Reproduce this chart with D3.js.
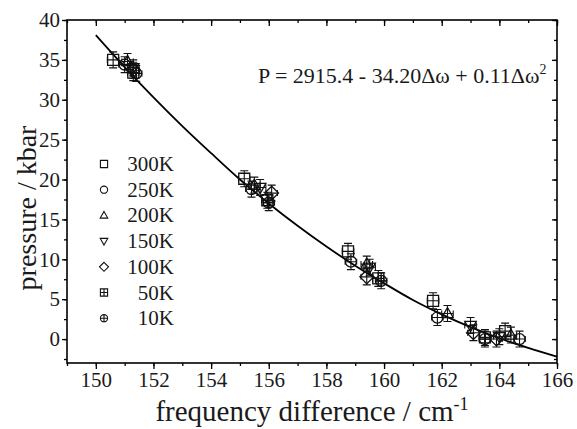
<!DOCTYPE html>
<html>
<head>
<meta charset="utf-8">
<script src="https://cdn.jsdelivr.net/npm/d3@7"></script>
<style>
  body { margin: 0; background: #fff; }
</style>
</head>
<body>
<div id="chart"></div>
<script>
// series labels (temperatures)
const temps = ['300K', '250K', '200K', '150K', '100K', '50K', '10K'];
const shapes = ['square', 'circle', 'triangle', 'triangleDown', 'diamond', 'squarePlus', 'circlePlus'];

// measured points per temperature: [frequency difference, pressure]
const s300 = [[150.6, 35.0], [155.15, 20.1], [158.75, 11.0], [161.7, 4.8], [164.2, 1.0]];
const s250 = [[151.0, 34.4], [155.4, 18.8], [158.85, 9.7], [161.85, 2.7], [164.7, 0.0]];
const s200 = [[151.1, 34.8], [155.5, 19.3], [159.4, 9.4], [162.2, 3.2], [164.4, 0.5]];
const s150 = [[151.3, 34.0], [155.7, 19.0], [159.5, 9.0], [163.0, 1.7], [164.0, 0.3]];
const s100 = [[151.3, 33.7], [156.1, 18.3], [159.4, 7.8], [163.1, 0.8], [163.9, 0.0]];
const s50 = [[151.3, 33.4], [155.95, 17.4], [159.8, 7.6], [163.5, 0.2]];
const s10 = [[151.4, 33.3], [156.0, 17.1], [159.9, 7.3], [163.5, 0.0]];
const seriesValues = [s300, s250, s200, s150, s100, s50, s10];

// error bar half-widths
const yErr = 1.0;
const xErr = 0.2;

// fitted curve
const fitX = [150, 151, 152, 153, 154, 155, 156, 157, 158, 159, 160, 161, 162, 163, 164, 165, 166];
const fitY = [38.1, 34.1, 30.3, 26.7, 23.3, 20.0, 17.0, 14.2, 11.6, 9.2, 7.0, 4.9, 3.1, 1.5, 0.1, -1.1, -2.2];

const xTicks = [150, 152, 154, 156, 158, 160, 162, 164, 166];
const yTicks = [0, 5, 10, 15, 20, 25, 30, 35, 40];

const width = 577;
const height = 429;
const margin = {top: 20, right: 20, bottom: 66, left: 67};
const serif = 'Liberation Serif';

const svg = d3.select('#chart')
  .append('svg')
  .attr('width', width)
  .attr('height', height);

const x = d3.scaleLinear()
  .domain([149, 166])
  .range([margin.left, width - margin.right]);

const y = d3.scaleLinear()
  .domain([-3, 40])
  .range([height - margin.bottom, margin.top]);

function shapePath(type, r) {
  switch (type) {
    case 'square':
      return `M${-r},${-r}H${r}V${r}H${-r}Z`;
    case 'circle':
      return `M${r},0A${r},${r} 0 1,1 ${-r},0A${r},${r} 0 1,1 ${r},0Z`;
    case 'triangle':
      return `M0,${-r * 1.1}L${r * 1.05},${r * 0.75}H${-r * 1.05}Z`;
    case 'triangleDown':
      return `M0,${r * 1.1}L${r * 1.05},${-r * 0.75}H${-r * 1.05}Z`;
    case 'diamond':
      return `M0,${-r * 1.25}L${r * 1.25},0L0,${r * 1.25}L${-r * 1.25},0Z`;
    case 'squarePlus':
      return `M${-r},${-r}H${r}V${r}H${-r}Z M0,${-r}V${r} M${-r},0H${r}`;
    case 'circlePlus':
      return `M${r},0A${r},${r} 0 1,1 ${-r},0A${r},${r} 0 1,1 ${r},0Z M0,${-r}V${r} M${-r},0H${r}`;
  }
}

// axes: outward ticks on left/bottom, inward mirror ticks on top/right
const xMinor = d3.range(149, 167, 1);
const yMinor = d3.range(-2.5, 40.1, 2.5);

svg.append('g')
  .attr('transform', `translate(0,${y(-3)})`)
  .call(d3.axisBottom(x).tickValues(xMinor).tickSize(3).tickFormat(''))
  .call(g => g.select('.domain').remove());
svg.append('g')
  .attr('transform', `translate(0,${y(-3)})`)
  .call(d3.axisBottom(x).tickValues(xTicks).tickSize(6).tickPadding(3).tickFormat(d3.format('d')))
  .call(g => g.select('.domain').remove())
  .attr('font-size', 21);

svg.append('g')
  .attr('transform', `translate(${x(149)},0)`)
  .call(d3.axisLeft(y).tickValues(yMinor).tickSize(3).tickFormat(''))
  .call(g => g.select('.domain').remove());
svg.append('g')
  .attr('transform', `translate(${x(149)},0)`)
  .call(d3.axisLeft(y).tickValues(yTicks).tickSize(5).tickPadding(2))
  .call(g => g.select('.domain').remove())
  .attr('font-size', 21);

svg.append('g')
  .attr('transform', `translate(0,${y(40)})`)
  .call(d3.axisBottom(x).tickValues(xMinor).tickSize(3).tickFormat(''))
  .call(g => g.select('.domain').remove());
svg.append('g')
  .attr('transform', `translate(0,${y(40)})`)
  .call(d3.axisBottom(x).tickValues(xTicks).tickSize(6).tickFormat(''))
  .call(g => g.select('.domain').remove());
svg.append('g')
  .attr('transform', `translate(${x(166)},0)`)
  .call(d3.axisLeft(y).tickValues(yMinor).tickSize(3).tickFormat(''))
  .call(g => g.select('.domain').remove());
svg.append('g')
  .attr('transform', `translate(${x(166)},0)`)
  .call(d3.axisLeft(y).tickValues(yTicks).tickSize(5).tickFormat(''))
  .call(g => g.select('.domain').remove());

svg.selectAll('.tick line').attr('stroke', '#000').attr('stroke-width', 1.3);

svg.append('rect')
  .attr('x', x(149))
  .attr('y', y(40))
  .attr('width', x(166) - x(149))
  .attr('height', y(-3) - y(40))
  .attr('fill', 'none')
  .attr('stroke', '#000')
  .attr('stroke-width', 1.6);

// fit curve
const fitData = fitX.map((d, i) => [d, fitY[i]]);
svg.append('path')
  .datum(fitData)
  .attr('fill', 'none')
  .attr('stroke', '#000')
  .attr('stroke-width', 1.8)
  .attr('d', d3.line().x(d => x(d[0])).y(d => y(d[1])).curve(d3.curveMonotoneX));

// data points with error bars
seriesValues.forEach((pts, si) => {
  const g = svg.append('g')
    .attr('fill', 'none')
    .attr('stroke', '#111')
    .attr('stroke-width', 1.1);
  const pt = g.selectAll('g')
    .data(pts)
    .join('g')
      .attr('transform', d => `translate(${x(d[0])},${y(d[1])})`);
  const ey = y(0) - y(yErr);
  const ex = x(150 + xErr) - x(150);
  pt.append('path')
    .attr('d', `M0,${-ey}V${ey} M-4,${-ey}H4 M-4,${ey}H4 M${-ex},0H${ex} M${-ex},-3V3 M${ex},-3V3`);
  pt.append('path')
    .attr('d', shapePath(shapes[si], 5.5))
    .attr('stroke-width', 1.3);
});

// legend
const legend = svg.append('g')
  .attr('transform', 'translate(104,164)');
temps.forEach((t, i) => {
  const row = legend.append('g').attr('transform', `translate(0,${i * 25.7})`);
  row.append('path')
    .attr('d', shapePath(shapes[i], 3.6))
    .attr('fill', 'none')
    .attr('stroke', '#111')
    .attr('stroke-width', 1.1);
  row.append('text')
    .attr('x', 70)
    .attr('y', 7)
    .attr('text-anchor', 'end')
    .attr('font-size', 21)
    .text(t);
});

// fit equation
const eq = svg.append('text')
  .attr('x', 258)
  .attr('y', 83)
  .attr('font-size', 22);
eq.append('tspan').text('P = 2915.4 - 34.20\u0394\u03c9 + 0.11\u0394\u03c9');
eq.append('tspan').attr('dy', -9).attr('font-size', 14).text('2');

// axis titles
const xt = svg.append('text')
  .attr('x', 312)
  .attr('y', 421)
  .attr('text-anchor', 'middle')
  .attr('font-size', 29);
xt.append('tspan').text('frequency difference / cm');
xt.append('tspan').attr('dy', -11).attr('font-size', 18).text('-1');

svg.append('text')
  .attr('transform', 'translate(36,208) rotate(-90)')
  .attr('text-anchor', 'middle')
  .attr('font-size', 28)
  .text('pressure / kbar');

svg.selectAll('text')
  .attr('font-family', serif)
  .attr('fill', '#1a1a1a');
</script>
</body>
</html>
